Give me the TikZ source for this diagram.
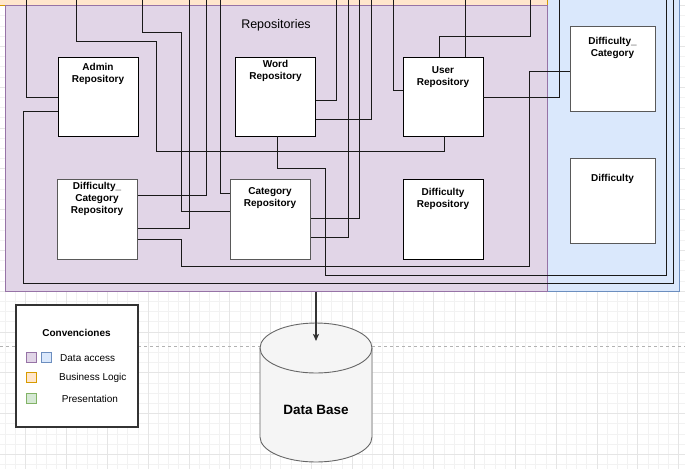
\documentclass[tikz,border=0pt]{standalone}
\usepackage{fontspec}
\setmainfont{Liberation Sans}
\usetikzlibrary{arrows.meta}
\definecolor{purpfill}{HTML}{E1D5E7}
\definecolor{purpline}{HTML}{9673A6}
\definecolor{bluefill}{HTML}{DAE8FC}
\definecolor{blueline}{HTML}{6C8EBF}
\definecolor{orfill}{HTML}{FFE6CC}
\definecolor{orline}{HTML}{D79B00}
\definecolor{grfill}{HTML}{D5E8D4}
\definecolor{grline}{HTML}{82B366}
\definecolor{dbfill}{HTML}{F5F5F5}
\definecolor{dbline}{HTML}{666666}
\begin{document}
\begin{tikzpicture}[x=1pt,y=-1pt,
  minorgrid/.style={draw=black!5, line width=0.5pt},
  majorgrid/.style={draw=black!10, line width=0.6pt},
  container/.style={rectangle, draw, inner sep=0pt, line width=1pt},
  repobox/.style={rectangle, draw=black, fill=white, line width=0.9pt, inner sep=0pt, minimum width=80pt, minimum height=79pt},
  grayrepobox/.style={repobox, draw=black!65, line width=1pt},
  boxtext/.style={font=\bfseries\fontsize{10}{12}\selectfont, align=center, inner sep=0pt},
  wire/.style={draw=black!90, line width=0.9pt},
  swatch/.style={rectangle, minimum size=10pt, inner sep=0pt, line width=0.9pt},
  legtext/.style={font=\fontsize{10}{12}\selectfont, inner sep=0pt, anchor=west}
]
\useasboundingbox (0,0) rectangle (685,469);
% background grid
\foreach \i in {0,...,69} {\pgfmathsetmacro\gx{678.5-10.2*\i}\draw[minorgrid] (\gx,0) -- (\gx,469);}
\foreach \i in {-2,...,46} {\pgfmathsetmacro\gy{454.3-10.2*\i}\draw[minorgrid] (0,\gy) -- (685,\gy);}
\foreach \i in {0,...,17} {\pgfmathsetmacro\gx{678.5-40.8*\i}\draw[majorgrid] (\gx,0) -- (\gx,469);}
\foreach \i in {-1,...,11} {\pgfmathsetmacro\gy{454.3-40.8*\i}\draw[majorgrid] (0,\gy) -- (685,\gy);}
\draw[black!30, dash pattern=on 3pt off 3pt, line width=0.6pt] (0,346) -- (685,346);

% containers
\node[container, fill=bluefill, draw=blueline, minimum width=132pt, minimum height=301pt] (datamodel) at (613,140.5) {};
\node[container, fill=orfill, draw=orline, minimum width=557pt, minimum height=15pt] (business) at (268.5,-2.5) {};
\node[container, fill=purpfill, draw=purpline, minimum width=542pt, minimum height=286pt] (repos) at (276,148) {};
\node[font=\fontsize{12.5}{15}\selectfont, inner sep=0pt] (repostitle) at (276,25) {Repositories};

% boxes
\node[repobox] (admin) at (98,96.5) {};
\node[repobox] (word) at (275.5,96.5) {};
\node[repobox] (user) at (443,96.5) {};
\node[grayrepobox, minimum width=85pt, minimum height=85pt] (dc) at (612.5,68.5) {};
\node[grayrepobox, minimum height=80pt] (dcr) at (97,219) {};
\node[grayrepobox, minimum height=80pt] (cat) at (270,219) {};
\node[repobox, minimum height=80pt] (dr) at (443,219) {};
\node[grayrepobox, minimum width=85pt, minimum height=85pt] (diff) at (612.5,200.5) {};

\node[boxtext] (adminT) at (98,74) {Admin\\Repository};
\node[boxtext] (wordT) at (275.5,70.5) {Word\\Repository};
\node[boxtext] (userT) at (443,76.7) {User\\Repository};
\node[boxtext] (dcT) at (612.5,47.7) {Difficulty\_\\Category};
\node[boxtext] (dcrT) at (97,199) {Difficulty\_\\Category\\Repository};
\node[boxtext] (catT) at (270,198.5) {Category\\Repository};
\node[boxtext] (drT) at (443,198.5) {Difficulty\\Repository};
\node[boxtext] (diffT) at (612.5,178.7) {Difficulty};

% free ends at the top
\coordinate (t1) at (26,0);
\coordinate (t2) at (673,0);
\coordinate (t3) at (76,0);
\coordinate (t4) at (142,0);
\coordinate (t5) at (189,0);
\coordinate (t6) at (206,0);
\coordinate (t7) at (220,0);
\coordinate (t8) at (336,0);
\coordinate (t9) at (348,0);
\coordinate (t10) at (359,0);
\coordinate (t11) at (371,0);
\coordinate (t12) at (393,0);
\coordinate (t13) at (465,0);
\coordinate (t14) at (530,0);
\coordinate (t15) at (559,0);
\coordinate (t17) at (666,0);

% connectors
\draw[wire] (t1) |- (admin.west |- 0,97);
\draw[wire] (admin.west |- 0,111) -| (23,283) -| (t2);
\draw[wire] (t3) |- (156,41) |- (444,151) -- (user.south -| 444,0);
\draw[wire] (t4) |- (181,32) |- (cat.west |- 0,211);
\draw[wire] (t5) |- (dcr.east |- 0,228);
\draw[wire] (t6) |- (dcr.east |- 0,195);
\draw[wire] (t7) |- (cat.west |- 0,193);
\draw[wire] (t8) |- (word.east |- 0,100);
\draw[wire] (t9) |- (cat.east |- 0,237);
\draw[wire] (t10) |- (cat.east |- 0,218);
\draw[wire] (t11) |- (word.east |- 0,119);
\draw[wire] (t12) |- (user.west |- 0,90);
\draw[wire] (t13) -- (user.north -| t13);
\draw[wire] (t14) |- (439,36) -- (user.north -| 439,0);
\draw[wire] (user.east |- 0,97) -| (t15);
\draw[wire] (dc.west |- 0,71) -| (529,266) -| (181,239) -- (dcr.east |- 0,239);
\draw[wire] (word.south -| 277,0) |- (325,168) |- (666,275) -- (t17);

% database cylinder
\draw[fill=dbfill, draw=dbline, line width=0.9pt] (260,348) -- (260,437)
  .. controls (260,450.8) and (285.1,462) .. (316,462)
  .. controls (346.9,462) and (372,450.8) .. (372,437) -- (372,348)
  .. controls (372,334.2) and (346.9,323) .. (316,323)
  .. controls (285.1,323) and (260,334.2) .. (260,348) -- cycle;
\draw[draw=dbline, line width=0.9pt] (260,348) .. controls (260,361.8) and (285.1,373) .. (316,373)
  .. controls (346.9,373) and (372,361.8) .. (372,348);
\node[font=\bfseries\fontsize{13.5}{16}\selectfont, inner sep=0pt] (db) at (316,410) {Data Base};
\coordinate (dbin) at (316,341);
\draw[draw=black!80, line width=1.2pt, -{Stealth[length=7pt,width=6pt,inset=1.5pt]}] (repos.south -| dbin) -- (dbin);

% legend
\node[rectangle, draw=black!80, fill=white, line width=1.1pt, minimum width=122pt, minimum height=122pt] (legend) at (77,366) {};
\node[font=\bfseries\fontsize{10}{12}\selectfont, inner sep=0pt] (legtitle) at (76.5,332.7) {Convenciones};
\node[swatch, fill=purpfill, draw=purpline] (swp) at (31,357) {};
\node[swatch, fill=bluefill, draw=blueline] (swb) at (46.5,357) {};
\node[swatch, fill=orfill, draw=orline] (swo) at (31,377.5) {};
\node[swatch, fill=grfill, draw=grline] (swg) at (31,398) {};
\node[legtext] (lda) at (60,358) {Data access};
\node[legtext] (lbl) at (59,377.5) {Business Logic};
\node[legtext] (lpr) at (61.7,398.5) {Presentation};
\end{tikzpicture}
\end{document}
